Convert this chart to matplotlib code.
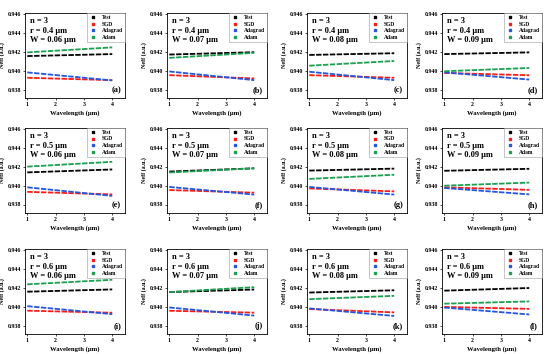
import numpy as np
import matplotlib
matplotlib.use('Agg')
import matplotlib.pyplot as plt
from matplotlib.lines import Line2D

plt.rcParams['font.family'] = ['Liberation Serif', 'DejaVu Serif']
plt.rcParams['font.weight'] = 'bold'

# wavelength end points (um)
wavelength = [1, 4]

# panel settings
panel_tags = ['(a)', '(b)', '(c)', '(d)', '(e)', '(f)', '(g)', '(h)', '(i)', '(j)', '(k)', '(l)']
r_vals = ['0.4', '0.4', '0.4', '0.4', '0.5', '0.5', '0.5', '0.5', '0.6', '0.6', '0.6', '0.6']
w_vals = ['0.06', '0.07', '0.08', '0.09'] * 3

# Neff at wavelength 1 and 4
test = [[0.94154, 0.94175], [0.94170, 0.94195], [0.94166, 0.94184], [0.94175, 0.94193],
        [0.94140, 0.94171], [0.94149, 0.94183], [0.94159, 0.94180], [0.94157, 0.94178],
        [0.94158, 0.94182], [0.94154, 0.94181], [0.94149, 0.94173], [0.94169, 0.94197]]
sgd = [[0.93924, 0.93899], [0.93952, 0.93917], [0.93952, 0.93924], [0.93975, 0.93951],
       [0.93934, 0.93907], [0.93953, 0.93925], [0.93970, 0.93939], [0.93982, 0.93955],
       [0.93957, 0.93935], [0.93956, 0.93936], [0.93974, 0.93939], [0.93997, 0.93976]]
adagrad = [[0.93981, 0.93896], [0.93991, 0.93899], [0.93988, 0.93899], [0.93982, 0.93905],
           [0.93982, 0.93891], [0.93986, 0.93905], [0.93986, 0.93905], [0.93975, 0.93907],
           [0.94005, 0.93920], [0.93991, 0.93905], [0.93981, 0.93901], [0.93990, 0.93917]]
adam = [[0.94193, 0.94246], [0.94135, 0.94188], [0.94052, 0.94102], [0.93993, 0.94028],
        [0.94201, 0.94252], [0.94139, 0.94183], [0.94071, 0.94115], [0.93999, 0.94032],
        [0.94236, 0.94284], [0.94154, 0.94206], [0.94079, 0.94114], [0.94031, 0.94055]]

series = [('Test', test, 'black'), ('SGD', sgd, '#ff1a1a'),
          ('Adagrad', adagrad, '#2456e0'), ('Adam', adam, '#1aa050')]

W, H = 550, 354
fig = plt.figure(figsize=(W / 100, H / 100), dpi=100)

col_left = [25, 167, 307, 442]
row_top = [13, 128, 249]
aw, ah = 100, 85

for i in range(12):
    r, c = divmod(i, 4)
    ax = fig.add_axes([col_left[c] / W, 1 - (row_top[r] + ah) / H, aw / W, ah / H])
    for name, data, col in series:
        ax.plot(wavelength, data[i], color=col, lw=1.3, ls=(0, (3, 0.8)))
    ax.set_xlim(0.92, 4.45)
    ax.set_ylim(0.9371, 0.9461)
    ax.set_xticks([1, 2, 3, 4])
    ax.set_yticks([0.938, 0.940, 0.942, 0.944, 0.946])
    ax.yaxis.set_major_formatter(matplotlib.ticker.FormatStrFormatter('%.3f'))
    ax.tick_params(labelsize=4.2, length=1.5, width=0.5, pad=1.5)
    for s in ax.spines.values():
        s.set_linewidth(0.6)
    ax.set_xlabel('Wavelength (μm)', fontsize=4.8, fontweight='bold', labelpad=2)
    ax.set_ylabel('Neff (a.u.)', fontsize=4.3, fontweight='bold', labelpad=2)
    ax.text(0.05, 0.95, 'n = 3\nr = %s μm\nW = %s μm' % (r_vals[i], w_vals[i]),
            transform=ax.transAxes, va='top', ha='left', fontsize=6, fontweight='bold',
            linespacing=1.25)
    ax.text(0.96, 0.05, panel_tags[i], transform=ax.transAxes, va='bottom', ha='right',
            fontsize=6, fontweight='bold')
    handles = [Line2D([], [], marker='s', ls='', color=col, markersize=1.6) for _, _, col in series]
    leg = ax.legend(handles, [n for n, _, _ in series], loc='upper right', fontsize=4,
                    frameon=True, fancybox=False, borderaxespad=0, handletextpad=0.8,
                    labelspacing=0.28, borderpad=0.35, handlelength=1.6)
    leg.get_frame().set_edgecolor('#999999')
    leg.get_frame().set_linewidth(0.5)

fig.savefig('out.png', dpi=100)
